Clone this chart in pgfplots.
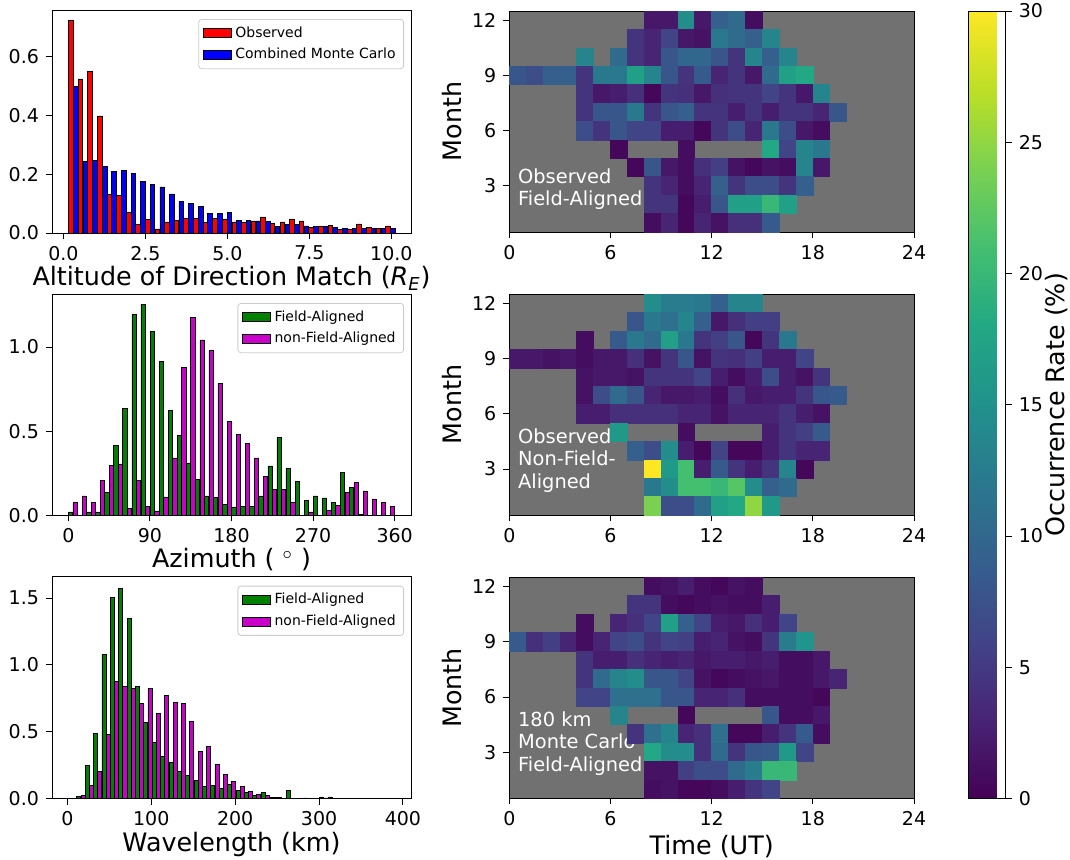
\documentclass[border=0pt]{standalone}
\usepackage{fontspec}
\setmainfont{DejaVu Sans}
\usepackage{pgfplots}
\usepackage{pgfplotstable}
\pgfplotsset{compat=1.18}
\definecolor{nangray}{RGB}{113,113,113}
\definecolor{mplgreen}{RGB}{0,128,0}
\definecolor{mplmag}{RGB}{200,0,200}
\definecolor{mplred}{RGB}{255,0,0}
\definecolor{mplblue}{RGB}{0,0,255}
\pgfplotsset{colormap={myviridis}{rgb255=(68,1,84) rgb255=(72,36,117) rgb255=(65,68,135) rgb255=(53,95,141) rgb255=(42,120,142) rgb255=(33,145,140) rgb255=(34,168,132) rgb255=(68,191,112) rgb255=(122,209,81) rgb255=(189,223,38) rgb255=(253,231,37)}}
\pgfdeclareplotmark{cell}{\pgfpathrectangle{\pgfqpoint{-4.216pt}{-4.6pt}}{\pgfqpoint{8.432pt}{9.2pt}}\pgfusepathqfillstroke}
\tikzset{annot/.style={anchor=base west, text=white, inner sep=0pt, font=\fontsize{9.7}{11}\selectfont}}
\pgfplotsset{
  /pgf/number format/assume math mode=true,
  every tick label/.append style={font=\fontsize{9.5}{11}\selectfont},
  basestyle/.style={scale only axis, label style={font=\fontsize{12.7}{14}\selectfont},
    tick align=outside, tick pos=left, major tick length=3pt,
    axis line style={line width=0.5pt}, every tick/.style={line width=0.5pt, black}},
  histstyle/.style={basestyle, ymin=0, legend cell align=left, xlabel style={yshift=4pt},
    legend style={at={(1,1)}, anchor=north east, xshift=-3.5pt, yshift=-4.5pt,
      font=\fontsize{7}{8}\selectfont, draw=black!20, rounded corners=1.5pt, fill=white,
      inner xsep=2pt, inner ysep=1.5pt},
    yticklabel style={/pgf/number format/fixed, /pgf/number format/fixed zerofill, /pgf/number format/precision=1}},
  heatstyle/.style={basestyle, xmin=0, xmax=24, ymin=0.5, ymax=12.5, xtick={0,6,12,18,24},
    ytick={3,6,9,12}, axis background/.style={fill=nangray}, colormap name=myviridis,
    point meta min=0, point meta max=30, ylabel={Month}, width=202.35pt,
    xlabel style={yshift=2pt}, ylabel shift=-2pt},
  mplpatch/.style={legend image code/.code={\draw[##1, sharp corners] (0pt,-2.2pt) rectangle (14pt,2.2pt);}},
  heatcells/.style={scatter, only marks, mark=cell, mark options={line width=0.3pt}, point meta=explicit,
    scatter/use mapped color={draw=mapped color, fill=mapped color}},
}

\pgfplotstableread{
x y c
8.5 12 2
9.5 12 2
10.5 12 14.5
11.5 12 2
12.5 12 9
13.5 12 10.5
14.5 12 1
7.5 11 4.5
8.5 11 3
9.5 11 6
10.5 11 2
11.5 11 1.5
12.5 11 12
13.5 11 10.5
14.5 11 9
15.5 11 13.5
4.5 10 13.5
6.5 10 10.5
7.5 10 4.5
8.5 10 3
9.5 10 8
10.5 10 10
11.5 10 10
12.5 10 8
13.5 10 4.5
14.5 10 13.5
15.5 10 9
16.5 10 13.5
0.5 9 8
1.5 9 7
2.5 9 9
3.5 9 9
4.5 9 4.5
5.5 9 12
6.5 9 12
7.5 9 17
8.5 9 13.5
9.5 9 8
10.5 9 4.5
11.5 9 8.5
12.5 9 3
13.5 9 4.5
14.5 9 2
15.5 9 10.5
16.5 9 17
17.5 9 18
4.5 8 4.5
5.5 8 2
6.5 8 2.5
7.5 8 4
8.5 8 0.5
9.5 8 4.5
10.5 8 4
11.5 8 2
12.5 8 4
13.5 8 4.5
14.5 8 4.5
15.5 8 6
16.5 8 4.5
17.5 8 2
18.5 8 13.5
4.5 7 4.5
5.5 7 8
6.5 7 8
7.5 7 12
8.5 7 4.5
9.5 7 8
10.5 7 9
11.5 7 4.5
12.5 7 4.5
13.5 7 2.5
14.5 7 4.5
15.5 7 2.5
16.5 7 4.5
17.5 7 4.5
18.5 7 3
19.5 7 8
4.5 6 7
5.5 6 4.5
6.5 6 8
7.5 6 6
8.5 6 6
9.5 6 2.5
10.5 6 2.5
11.5 6 0.5
12.5 6 4.5
13.5 6 7
14.5 6 3
15.5 6 12
16.5 6 7
17.5 6 2
18.5 6 1
6.5 5 0.5
10.5 5 1
15.5 5 18
16.5 5 6
17.5 5 13.5
18.5 5 12
7.5 4 0.5
8.5 4 8
9.5 4 2
10.5 4 1
11.5 4 4
12.5 4 5.5
13.5 4 1.5
14.5 4 0.5
15.5 4 1.5
16.5 4 1
17.5 4 13.5
18.5 4 2
8.5 3 4.5
9.5 3 3
10.5 3 1
11.5 3 3
12.5 3 9
13.5 3 4.5
14.5 3 7
15.5 3 7
16.5 3 4.5
17.5 3 9
8.5 2 4.5
9.5 2 4.5
10.5 2 0.5
11.5 2 2.5
12.5 2 8
13.5 2 17
14.5 2 17
15.5 2 20
16.5 2 17
8.5 1 1
9.5 1 3
10.5 1 0.5
11.5 1 3
12.5 1 1.5
13.5 1 4
14.5 1 4
15.5 1 8.5
}\heatA

\pgfplotstableread{
x y c
8.5 12 14.5
9.5 12 12.5
10.5 12 12.5
11.5 12 12
12.5 12 9
13.5 12 13.5
14.5 12 13.5
7.5 11 8
8.5 11 12
9.5 11 11
10.5 11 13.5
11.5 11 9
12.5 11 2
13.5 11 4
14.5 11 5.5
15.5 11 5.5
4.5 10 1
6.5 10 8.5
7.5 10 12
8.5 10 10.5
9.5 10 17
10.5 10 12
11.5 10 4.5
12.5 10 5.5
13.5 10 8
14.5 10 0.5
15.5 10 4.5
16.5 10 12
0.5 9 2
1.5 9 2
2.5 9 1.5
3.5 9 2
4.5 9 1
5.5 9 2
6.5 9 2
7.5 9 4
8.5 9 1.5
9.5 9 4.5
10.5 9 8
11.5 9 1.5
12.5 9 4.5
13.5 9 4
14.5 9 5.5
15.5 9 2.5
16.5 9 2.5
17.5 9 6
4.5 8 1.5
5.5 8 2
6.5 8 2
7.5 8 1.5
8.5 8 4.5
9.5 8 4.5
10.5 8 4.5
11.5 8 6
12.5 8 2.5
13.5 8 1
14.5 8 2.5
15.5 8 7
16.5 8 2.5
17.5 8 1.5
18.5 8 4.5
4.5 7 1.5
5.5 7 7
6.5 7 10.5
7.5 7 8
8.5 7 3
9.5 7 2
10.5 7 2
11.5 7 2.5
12.5 7 1
13.5 7 4
14.5 7 2
15.5 7 2.5
16.5 7 2.5
17.5 7 4.5
18.5 7 8
19.5 7 8.5
4.5 6 2.5
5.5 6 2.5
6.5 6 4
7.5 6 4
8.5 6 4
9.5 6 4
10.5 6 3
11.5 6 3
12.5 6 1.5
13.5 6 3
14.5 6 3
15.5 6 3
16.5 6 4.5
17.5 6 2.5
18.5 6 1.5
6.5 5 16
10.5 5 1
15.5 5 2.5
16.5 5 4.5
17.5 5 5.5
18.5 5 8.5
7.5 4 9
8.5 4 7
9.5 4 14.5
10.5 4 2.5
11.5 4 0.5
12.5 4 6
13.5 4 0.5
14.5 4 0.5
15.5 4 2.5
16.5 4 4.5
17.5 4 3
18.5 4 3
8.5 3 30
9.5 3 16
10.5 3 21
11.5 3 2.5
12.5 3 8.5
13.5 3 4.5
14.5 3 2.5
15.5 3 4.5
16.5 3 13.5
17.5 3 0.5
8.5 2 12
9.5 2 14.5
10.5 2 21
11.5 2 21
12.5 2 20
13.5 2 22
14.5 2 14.5
15.5 2 9
16.5 2 10.5
8.5 1 24
9.5 1 7
10.5 1 7
11.5 1 10.5
12.5 1 17
13.5 1 18
14.5 1 25
15.5 1 16
}\heatB

\pgfplotstableread{
x y c
8.5 12 1
9.5 12 1.5
10.5 12 2.5
11.5 12 1
12.5 12 0.5
13.5 12 1.5
14.5 12 1
7.5 11 4.5
8.5 11 4.5
9.5 11 1
10.5 11 0.5
11.5 11 1
12.5 11 1.5
13.5 11 1
14.5 11 1
15.5 11 2.5
4.5 10 1
6.5 10 3
7.5 10 4
8.5 10 6
9.5 10 17
10.5 10 9
11.5 10 6
12.5 10 2.5
13.5 10 2
14.5 10 4
15.5 10 2.5
16.5 10 6
0.5 9 8.5
1.5 9 4
2.5 9 5.5
3.5 9 3
4.5 9 1
5.5 9 3
6.5 9 6
7.5 9 7
8.5 9 4.5
9.5 9 6
10.5 9 5.5
11.5 9 2.5
12.5 9 3
13.5 9 1.5
14.5 9 1
15.5 9 4.5
16.5 9 12.5
17.5 9 15.5
4.5 8 4.5
5.5 8 2.5
6.5 8 2.5
7.5 8 4
8.5 8 3
9.5 8 2.5
10.5 8 3
11.5 8 2
12.5 8 2.5
13.5 8 2.5
14.5 8 2
15.5 8 2.5
16.5 8 1
17.5 8 1
18.5 8 2
4.5 7 4.5
5.5 7 10.5
6.5 7 13.5
7.5 7 14.5
8.5 7 8
9.5 7 8
10.5 7 6
11.5 7 1.5
12.5 7 0.5
13.5 7 1
14.5 7 1.5
15.5 7 2
16.5 7 1
17.5 7 1
18.5 7 2
19.5 7 3
4.5 6 6
5.5 6 6
6.5 6 11
7.5 6 11
8.5 6 11
9.5 6 8
10.5 6 8
11.5 6 3
12.5 6 3
13.5 6 4
14.5 6 1
15.5 6 1
16.5 6 1
17.5 6 1
18.5 6 0.5
6.5 5 13.5
10.5 5 0.5
15.5 5 8
16.5 5 1
17.5 5 1
18.5 5 2
7.5 4 4.5
8.5 4 11
9.5 4 13.5
10.5 4 3
11.5 4 4
12.5 4 11
13.5 4 0.5
14.5 4 0.5
15.5 4 2.5
16.5 4 4.5
17.5 4 8.5
18.5 4 1
8.5 3 18
9.5 3 14.5
10.5 3 14.5
11.5 3 4
12.5 3 10.5
13.5 3 4.5
14.5 3 8
15.5 3 8.5
16.5 3 16
17.5 3 6
8.5 2 1.5
9.5 2 1.5
10.5 2 5.5
11.5 2 7
12.5 2 7
13.5 2 10.5
14.5 2 12.5
15.5 2 20
16.5 2 20
8.5 1 1
9.5 1 1.5
10.5 1 0.5
11.5 1 0.5
12.5 1 1
13.5 1 2.5
14.5 1 4.5
15.5 1 6
}\heatC

\begin{document}
\begin{tikzpicture}
\useasboundingbox (0,0) rectangle (535pt,429.5pt);

% ---------- Panel A ----------
\begin{axis}[histstyle, at={(26pt,313pt)}, anchor=south west, width=179.5pt, height=111.5pt,
  xmin=-0.35, xmax=10.6, ymax=0.76, xtick={0,2.5,5,7.5,10}, ytick={0,0.2,0.4,0.6},
  xticklabel style={/pgf/number format/fixed, /pgf/number format/fixed zerofill, /pgf/number format/precision=1},
  xlabel={Altitude of Direction Match (\textit{R}\textsubscript{\textit{E}})}]
\addplot[ybar, bar width=0.14, bar shift=-0.0733, fill=mplred, draw=black, line width=0.35pt, mplpatch] coordinates {
(0.30,0.724)(0.59,0.525)(0.88,0.55)(1.18,0.399)(1.47,0.132)(1.76,0.129)(2.06,0.069)(2.35,0.03)(2.64,0.046)(2.94,0.014)(3.23,0.038)(3.52,0.043)(3.81,0.049)(4.11,0.049)(4.40,0.035)(4.69,0.049)(4.99,0.048)(5.28,0.038)(5.57,0.035)(5.87,0.041)(6.16,0.055)(6.45,0.034)(6.75,0.038)(7.04,0.048)(7.33,0.041)(7.62,0.02)(7.92,0.022)(8.21,0.026)(8.50,0.013)(8.80,0.014)(9.09,0.031)(9.38,0.02)(9.68,0.016)(9.97,0.024)};
\addlegendentry{Observed}
\addplot[ybar, bar width=0.14, bar shift=0.0733, fill=mplblue, draw=black, line width=0.35pt, mplpatch] coordinates {
(0.30,0.5)(0.59,0.245)(0.88,0.248)(1.18,0.228)(1.47,0.21)(1.76,0.213)(2.06,0.203)(2.35,0.175)(2.64,0.165)(2.94,0.157)(3.23,0.133)(3.52,0.108)(3.81,0.101)(4.11,0.09)(4.40,0.066)(4.69,0.066)(4.99,0.069)(5.28,0.044)(5.57,0.044)(5.87,0.041)(6.16,0.039)(6.45,0.022)(6.75,0.03)(7.04,0.03)(7.33,0.024)(7.62,0.022)(7.92,0.022)(8.21,0.019)(8.50,0.015)(8.80,0.017)(9.09,0.016)(9.38,0.017)(9.68,0.016)(9.97,0.017)};
\addlegendentry{Combined Monte Carlo}
\end{axis}

% ---------- Panel B ----------
\begin{axis}[histstyle, at={(26pt,171.85pt)}, anchor=south west, width=179.5pt, height=110.65pt,
  xmin=-18, xmax=378, ymax=1.315, xtick={0,90,180,270,360}, ytick={0,0.5,1},
  xlabel={Azimuth ( $^{\circ}$ )}]
\addplot[ybar, bar width=4.8, bar shift=-2.5, fill=mplgreen, draw=black, line width=0.35pt, mplpatch] coordinates {
(5,0.02)(25,0.02)(35,0.02)(45,0.135)(55,0.414)(65,0.634)(75,1.194)(85,1.253)(95,1.095)(105,0.913)(115,0.622)(125,0.475)(135,0.311)(145,0.214)(155,0.115)(165,0.105)(175,0.067)(185,0.05)(195,0.055)(205,0.055)(215,0.115)(225,0.293)(235,0.463)(245,0.281)(255,0.202)(265,0.087)(275,0.115)(285,0.103)(295,0.075)(305,0.253)(315,0.168)(325,0.006)};
\addlegendentry{Field-Aligned}
\addplot[ybar, bar width=4.8, bar shift=2.5, fill=mplmag, draw=black, line width=0.35pt, mplpatch] coordinates {
(5,0.075)(15,0.115)(25,0.075)(35,0.208)(45,0.297)(55,0.305)(65,0.042)(75,0.208)(85,0.055)(95,0.026)(105,0.109)(115,0.341)(125,0.877)(135,1.174)(145,1.042)(155,0.98)(165,0.784)(175,0.558)(185,0.481)(195,0.428)(205,0.341)(215,0.232)(225,0.154)(235,0.154)(245,0.079)(265,0.02)(285,0.03)(295,0.061)(305,0.135)(315,0.194)(325,0.145)(335,0.097)(345,0.079)(355,0.053)};
\addlegendentry{non-Field-Aligned}
\end{axis}

% ---------- Panel C ----------
\begin{axis}[histstyle, at={(26pt,30.15pt)}, anchor=south west, width=179.5pt, height=111pt,
  xmin=-18.3, xmax=409.6, ymax=1.66, xtick={0,100,200,300,400}, ytick={0,0.5,1,1.5},
  xlabel={Wavelength (km)}]
\addplot[ybar, bar width=4.8, bar shift=-2.5, fill=mplgreen, draw=black, line width=0.35pt, mplpatch] coordinates {
(16.12,0.015)(26.10,0.247)(36.08,0.49)(46.06,1.079)(56.04,1.507)(66.02,1.575)(76.00,1.351)(85.98,0.84)(95.96,0.571)(105.94,0.419)(115.92,0.319)(125.90,0.274)(135.88,0.207)(145.86,0.174)(155.84,0.135)(165.82,0.092)(175.80,0.097)(185.78,0.077)(195.76,0.105)(205.74,0.065)(215.72,0.045)(225.70,0.027)(235.68,0.045)(245.66,0.007)(255.64,0.012)(265.62,0.06)(275.60,0.005)(285.58,0.006)(295.56,0.004)(305.54,0.013)(315.52,0.013)(325.50,0.002)(335.48,0.003)(345.46,0.002)(355.44,0.003)(375.40,0.003)};
\addlegendentry{Field-Aligned}
\addplot[ybar, bar width=4.8, bar shift=2.5, fill=mplmag, draw=black, line width=0.35pt, mplpatch] coordinates {
(16.12,0.027)(26.10,0.097)(36.08,0.204)(46.06,0.483)(56.04,0.877)(66.02,0.84)(76.00,0.822)(85.98,0.71)(95.96,0.825)(105.94,0.64)(115.92,0.77)(125.90,0.718)(135.88,0.71)(145.86,0.58)(155.84,0.351)(165.82,0.394)(175.80,0.259)(185.78,0.182)(195.76,0.13)(205.74,0.09)(215.72,0.052)(225.70,0.032)(235.68,0.027)(245.66,0.007)(255.64,0.005)(265.62,0.005)(275.60,0.005)(285.58,0.004)(295.56,0.003)(305.54,0.006)(315.52,0.004)(325.50,0.002)(335.48,0.003)(355.44,0.003)(365.42,0.003)(375.40,0.002)(385.38,0.002)};
\addlegendentry{non-Field-Aligned}
\end{axis}

% ---------- Heatmap 1 + colorbar ----------
\begin{axis}[heatstyle, at={(254.65pt,313.5pt)}, anchor=south west, height=110.5pt,
  colorbar, colorbar style={at={(parent axis.north east)}, anchor=north west, xshift=18.5pt,
    scale only axis, width=18.85pt, height=393.8pt, ytick={0,5,10,15,20,25,30},
    ytick pos=right, yticklabel pos=right, tick align=outside, major tick length=3pt,
    every tick/.style={line width=0.5pt, black}, axis line style={line width=0.5pt},
    ylabel={Occurrence Rate (\%)}, ylabel style={font=\fontsize{12.7}{14}\selectfont},
    ylabel shift=-6pt,
    /pgf/number format/assume math mode=true}]
\addplot[heatcells] table[x=x, y=y, meta=c] {\heatA};
\node[annot] at (axis cs:0.5,3.13) {Observed};
\node[annot] at (axis cs:0.5,1.96) {Field-Aligned};
\end{axis}

% ---------- Heatmap 2 ----------
\begin{axis}[heatstyle, at={(254.65pt,172pt)}, anchor=south west, height=110.35pt]
\addplot[heatcells] table[x=x, y=y, meta=c] {\heatB};
\node[annot] at (axis cs:0.5,4.41) {Observed};
\node[annot] at (axis cs:0.5,3.19) {Non-Field-};
\node[annot] at (axis cs:0.5,1.96) {Aligned};
\end{axis}

% ---------- Heatmap 3 ----------
\begin{axis}[heatstyle, at={(254.65pt,30.35pt)}, anchor=south west, height=110.5pt, xlabel={Time (UT)}]
\addplot[heatcells] table[x=x, y=y, meta=c] {\heatC};
\node[annot] at (axis cs:0.5,4.40) {180 km};
\node[annot] at (axis cs:0.5,3.21) {Monte Carlo};
\node[annot] at (axis cs:0.5,1.96) {Field-Aligned};
\end{axis}
\end{tikzpicture}
\end{document}
